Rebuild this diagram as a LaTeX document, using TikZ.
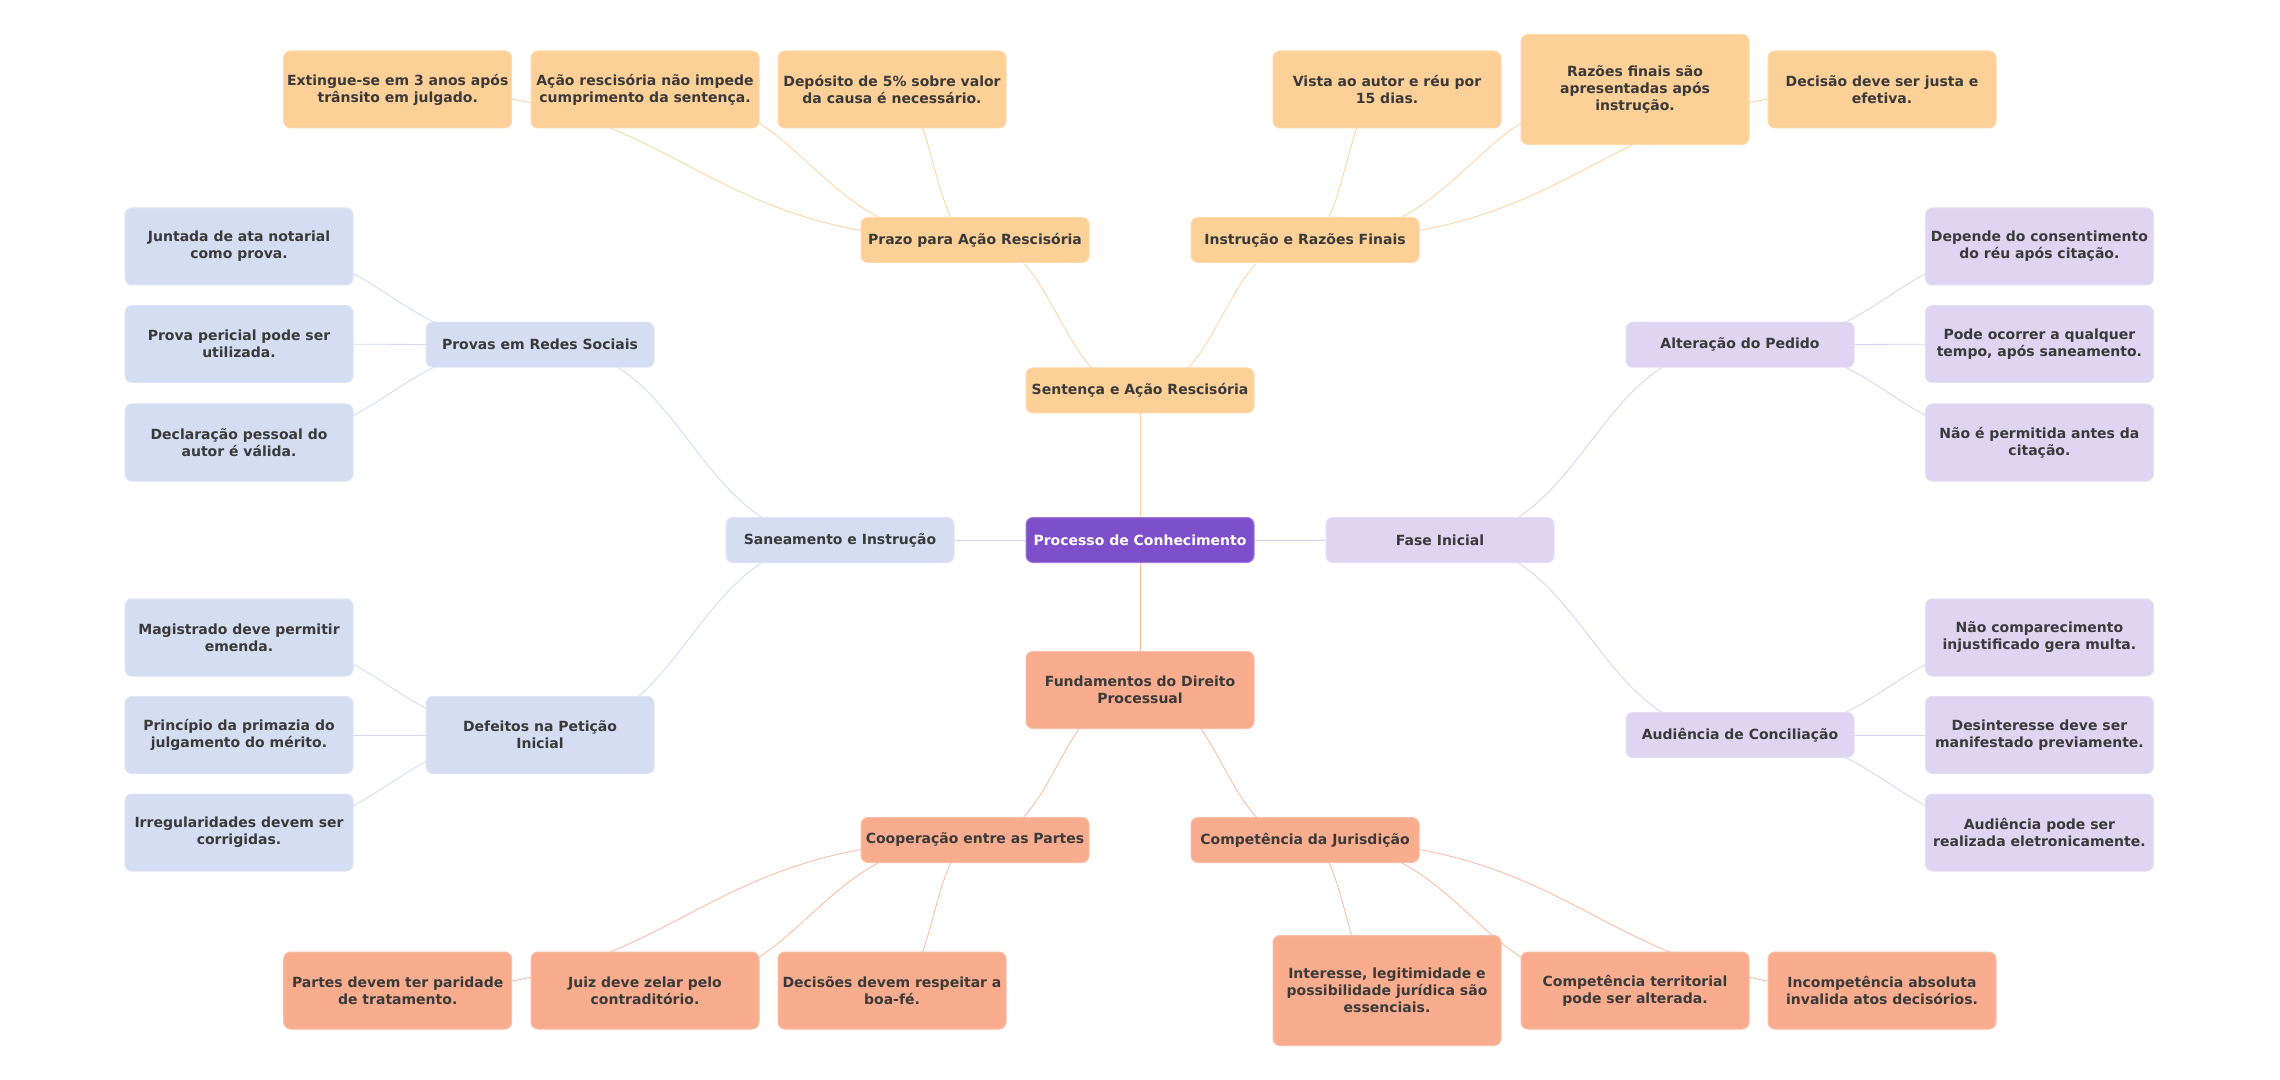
\documentclass[tikz,border=0pt]{standalone}
\usepackage{fontspec}
\setmainfont{DejaVu Sans}
\usetikzlibrary{calc,backgrounds}
\definecolor{fOr}{HTML}{FDD097}
\definecolor{fSa}{HTML}{F9AD8E}
\definecolor{fBl}{HTML}{D5DDF2}
\definecolor{fPu}{HTML}{DFD4F1}
\definecolor{fRoot}{HTML}{7E4FCB}
\definecolor{lOr}{HTML}{FDD4A0}
\definecolor{lSa}{HTML}{F9BBA0}
\definecolor{lBl}{HTML}{D1DAF2}
\definecolor{lPu}{HTML}{DAD0F3}
\definecolor{txt}{HTML}{3A3A3A}
\newcommand\mmlink[3]{\draw[#1] let \p1=(#2.center), \p2=(#3.center) in (\p1) .. controls ({0.5*\x1+0.5*\x2},\y1) and ({0.5*\x1+0.5*\x2},\y2) .. (\p2);}
\begin{document}
\begin{tikzpicture}[x=0.5pt,y=-0.5pt,
  box/.style={rounded corners=3.5pt, minimum width=114pt, inner sep=0pt, align=center,
    line width=0.5pt, font=\fontsize{7pt}{8.5pt}\selectfont\bfseries, text=txt},
  hA/.style={minimum height=22.5pt},
  hB/.style={minimum height=38.5pt},
  hC/.style={minimum height=55pt},
  bOr/.style={box, fill=fOr, draw=fOr!80!white},
  bSa/.style={box, fill=fSa, draw=fSa!80!white},
  bBl/.style={box, fill=fBl, draw=fBl!80!white},
  bPu/.style={box, fill=fPu, draw=fPu!80!white},
  bRoot/.style={box, fill=fRoot, draw=fRoot!75!white, text=white}]
\useasboundingbox (0,0) rectangle (2280,1080);
% root and main branches
\node[bRoot,hA] (root) at (1140,540) {Processo de Conhecimento};
\node[bOr,hA] (sent) at (1140,390.5) {Sentença e Ação Rescisória};
\node[bSa,hB] (fund) at (1140,690) {Fundamentos do Direito\\Processual};
\node[bBl,hA] (san) at (840,540) {Saneamento e Instrução};
\node[bPu,hA] (fase) at (1440,540) {Fase Inicial};
% orange
\node[bOr,hA] (prazo) at (975,240) {Prazo para Ação Rescisória};
\node[bOr,hA] (instr) at (1305,240) {Instrução e Razões Finais};
\node[bOr,hB] (ext) at (397.7,89.5) {Extingue-se em 3 anos após\\trânsito em julgado.};
\node[bOr,hB] (acao) at (645,89.5) {Ação rescisória não impede\\cumprimento da sentença.};
\node[bOr,hB] (dep) at (892,89.5) {Depósito de 5\% sobre valor\\da causa é necessário.};
\node[bOr,hB] (vista) at (1387,89.5) {Vista ao autor e réu por\\15 dias.};
\node[bOr,hC] (raz) at (1635,89.5) {Razões finais são\\apresentadas após\\instrução.};
\node[bOr,hB] (dec) at (1882,89.5) {Decisão deve ser justa e\\efetiva.};
% blue
\node[bBl,hA] (prov) at (540,344.7) {Provas em Redes Sociais};
\node[bBl,hB] (def) at (540,735) {Defeitos na Petição\\Inicial};
\node[bBl,hB] (jun) at (239,246.5) {Juntada de ata notarial\\como prova.};
\node[bBl,hB] (per) at (239,344) {Prova pericial pode ser\\utilizada.};
\node[bBl,hB] (decl) at (239,442.5) {Declaração pessoal do\\autor é válida.};
\node[bBl,hB] (mag) at (239,637.5) {Magistrado deve permitir\\emenda.};
\node[bBl,hB] (prin) at (239,735) {Princípio da primazia do\\julgamento do mérito.};
\node[bBl,hB] (irr) at (239,832.5) {Irregularidades devem ser\\corrigidas.};
% purple
\node[bPu,hA] (alt) at (1740,344.7) {Alteração do Pedido};
\node[bPu,hA] (aud) at (1740,735) {Audiência de Conciliação};
\node[bPu,hB] (depc) at (2039.4,246.5) {Depende do consentimento\\do réu após citação.};
\node[bPu,hB] (pode) at (2039.4,344) {Pode ocorrer a qualquer\\tempo, após saneamento.};
\node[bPu,hB] (naoe) at (2039.4,442.5) {Não é permitida antes da\\citação.};
\node[bPu,hB] (naoc) at (2039.4,637.5) {Não comparecimento\\injustificado gera multa.};
\node[bPu,hB] (desi) at (2039.4,735) {Desinteresse deve ser\\manifestado previamente.};
\node[bPu,hB] (audp) at (2039.4,832.5) {Audiência pode ser\\realizada eletronicamente.};
% salmon
\node[bSa,hA] (coop) at (975,840) {Cooperação entre as Partes};
\node[bSa,hA] (comp) at (1305,840) {Competência da Jurisdição};
\node[bSa,hB] (part) at (397.7,990.5) {Partes devem ter paridade\\de tratamento.};
\node[bSa,hB] (juiz) at (645,990.5) {Juiz deve zelar pelo\\contraditório.};
\node[bSa,hB] (decs) at (892,990.5) {Decisões devem respeitar a\\boa-fé.};
\node[bSa,hC] (inte) at (1387,990.5) {Interesse, legitimidade e\\possibilidade jurídica são\\essenciais.};
\node[bSa,hB] (cter) at (1635,990.5) {Competência territorial\\pode ser alterada.};
\node[bSa,hB] (inco) at (1882,990.5) {Incompetência absoluta\\invalida atos decisórios.};
\begin{scope}[on background layer, line width=1.3pt]
\fill[white] (0,0) rectangle (2280,1080);
\mmlink{lOr}{root}{sent}
\mmlink{lSa}{root}{fund}
\mmlink{lBl}{root}{san}
\mmlink{lPu}{root}{fase}
\mmlink{lOr}{sent}{prazo}
\mmlink{lOr}{sent}{instr}
\mmlink{lOr}{prazo}{ext}
\mmlink{lOr}{prazo}{acao}
\mmlink{lOr}{prazo}{dep}
\mmlink{lOr}{instr}{vista}
\mmlink{lOr}{instr}{raz}
\mmlink{lOr}{instr}{dec}
\mmlink{lBl}{san}{prov}
\mmlink{lBl}{san}{def}
\mmlink{lBl}{prov}{jun}
\mmlink{lBl}{prov}{per}
\mmlink{lBl}{prov}{decl}
\mmlink{lBl}{def}{mag}
\mmlink{lBl}{def}{prin}
\mmlink{lBl}{def}{irr}
\mmlink{lPu}{fase}{alt}
\mmlink{lPu}{fase}{aud}
\mmlink{lPu}{alt}{depc}
\mmlink{lPu}{alt}{pode}
\mmlink{lPu}{alt}{naoe}
\mmlink{lPu}{aud}{naoc}
\mmlink{lPu}{aud}{desi}
\mmlink{lPu}{aud}{audp}
\mmlink{lSa}{fund}{coop}
\mmlink{lSa}{fund}{comp}
\mmlink{lSa}{coop}{part}
\mmlink{lSa}{coop}{juiz}
\mmlink{lSa}{coop}{decs}
\mmlink{lSa}{comp}{inte}
\mmlink{lSa}{comp}{cter}
\mmlink{lSa}{comp}{inco}
\end{scope}
\end{tikzpicture}
\end{document}
